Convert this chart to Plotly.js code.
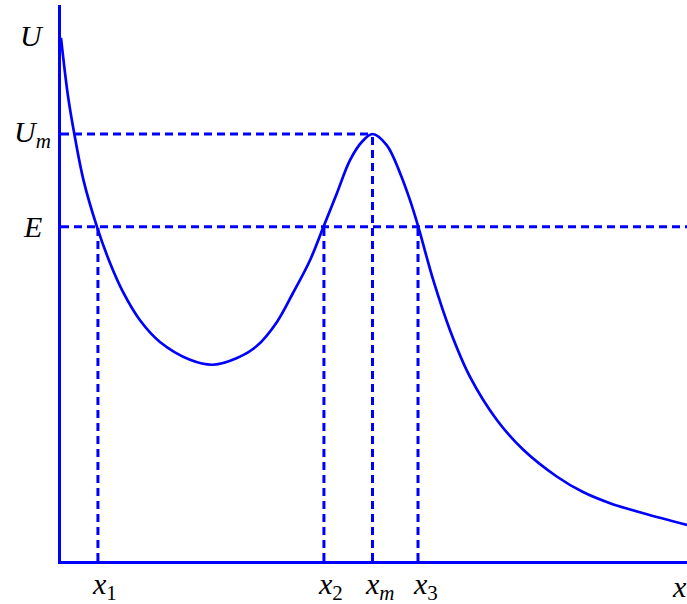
<!DOCTYPE html>
<html>
<head>
<meta charset="utf-8">
<script src="https://cdn.plot.ly/plotly-3.0.1.min.js"></script>
<style>html,body{margin:0;padding:0;background:#fff;}#chart{width:687px;height:604px;}</style>
</head>
<body>
<div id="chart"></div>
<script>
// Potential-energy curve U(x) (arbitrary units)
const curveX = [0, 0.112, 0.216, 0.359, 0.575, 0.783, 0.990, 1.262, 1.581, 2.061, 2.428, 2.812, 3.131, 3.450, 3.706, 3.978, 4.193, 4.409, 4.617, 4.808, 4.976, 5.203, 5.415, 5.575, 5.708, 5.947, 6.214, 6.534, 6.960, 7.385, 7.919, 8.339, 8.770, 9.302, 10];
const curveU = [9.41, 8.36, 7.66, 6.85, 6.01, 5.36, 4.84, 4.33, 3.94, 3.62, 3.53, 3.65, 3.87, 4.30, 4.82, 5.41, 6.01, 6.62, 7.21, 7.54, 7.68, 7.48, 6.98, 6.49, 6.01, 5.05, 4.15, 3.31, 2.54, 2.00, 1.52, 1.24, 1.04, 0.86, 0.65];

// Marked levels and positions
const levelE = 6.01;
const levelUm = 7.68;
const levelU = 9.46;
const x1 = 0.59, x2 = 4.2, xm = 4.976, x3 = 5.703, xEnd = 10, xLabel = 9.888;

const xTickVals = [x1, x2, xm, x3, xLabel];
const xTickText = ['<i>x</i><sub>1</sub>', '<i>x</i><sub>2</sub>', '<i>x</i><sub><i>m</i></sub>', '<i>x</i><sub>3</sub>', '<i>x</i>'];
const yLabelVals = [levelU, levelUm, levelE];
const yLabelText = ['<i>U</i>', '<i>U</i><sub><i>m</i></sub>', '<i>E</i>'];

const blue = '#0000ff';
const dash = {color: blue, width: 3, dash: '8px,5px'};

const traces = [
  {x: [0, xEnd], y: [levelE, levelE], mode: 'lines', line: dash},
  {x: [0, xm], y: [levelUm, levelUm], mode: 'lines', line: dash},
  {x: [x1, x1], y: [0, levelE], mode: 'lines', line: dash},
  {x: [x2, x2], y: [0, levelE], mode: 'lines', line: dash},
  {x: [xm, xm], y: [0, levelUm], mode: 'lines', line: dash},
  {x: [x3, x3], y: [0, levelE], mode: 'lines', line: dash},
  {x: curveX, y: curveU, mode: 'lines', line: {color: blue, width: 2.7, shape: 'spline', smoothing: 1}}
];

const labelFont = {family: 'Liberation Serif, DejaVu Serif, serif', size: 30, color: '#000'};
const annotations = [];
yLabelVals.forEach((v, i) => annotations.push({
  xref: 'paper', yref: 'y', x: -0.0463, y: v, text: yLabelText[i],
  showarrow: false, xanchor: 'center', yanchor: 'middle', font: labelFont
}));
xTickVals.forEach((v, i) => annotations.push({
  xref: 'x', yref: 'paper', x: v, y: -0.045, text: xTickText[i],
  showarrow: false, xanchor: 'center', yanchor: 'middle', font: labelFont,
  xshift: i < 4 ? 7 : 0
}));

const layout = {
  width: 687, height: 604,
  margin: {l: 61, r: 0, t: 5, b: 43, pad: 0},
  paper_bgcolor: '#fff', plot_bgcolor: '#fff',
  showlegend: false,
  xaxis: {range: [0, 10], showgrid: false, zeroline: false, showticklabels: false, ticks: '',
          showline: true, linecolor: blue, linewidth: 3},
  yaxis: {range: [0, 10], showgrid: false, zeroline: false, showticklabels: false, ticks: '',
          showline: true, linecolor: blue, linewidth: 3},
  annotations: annotations
};

Plotly.newPlot('chart', traces, layout, {staticPlot: true, displayModeBar: false});
</script>
</body>
</html>
